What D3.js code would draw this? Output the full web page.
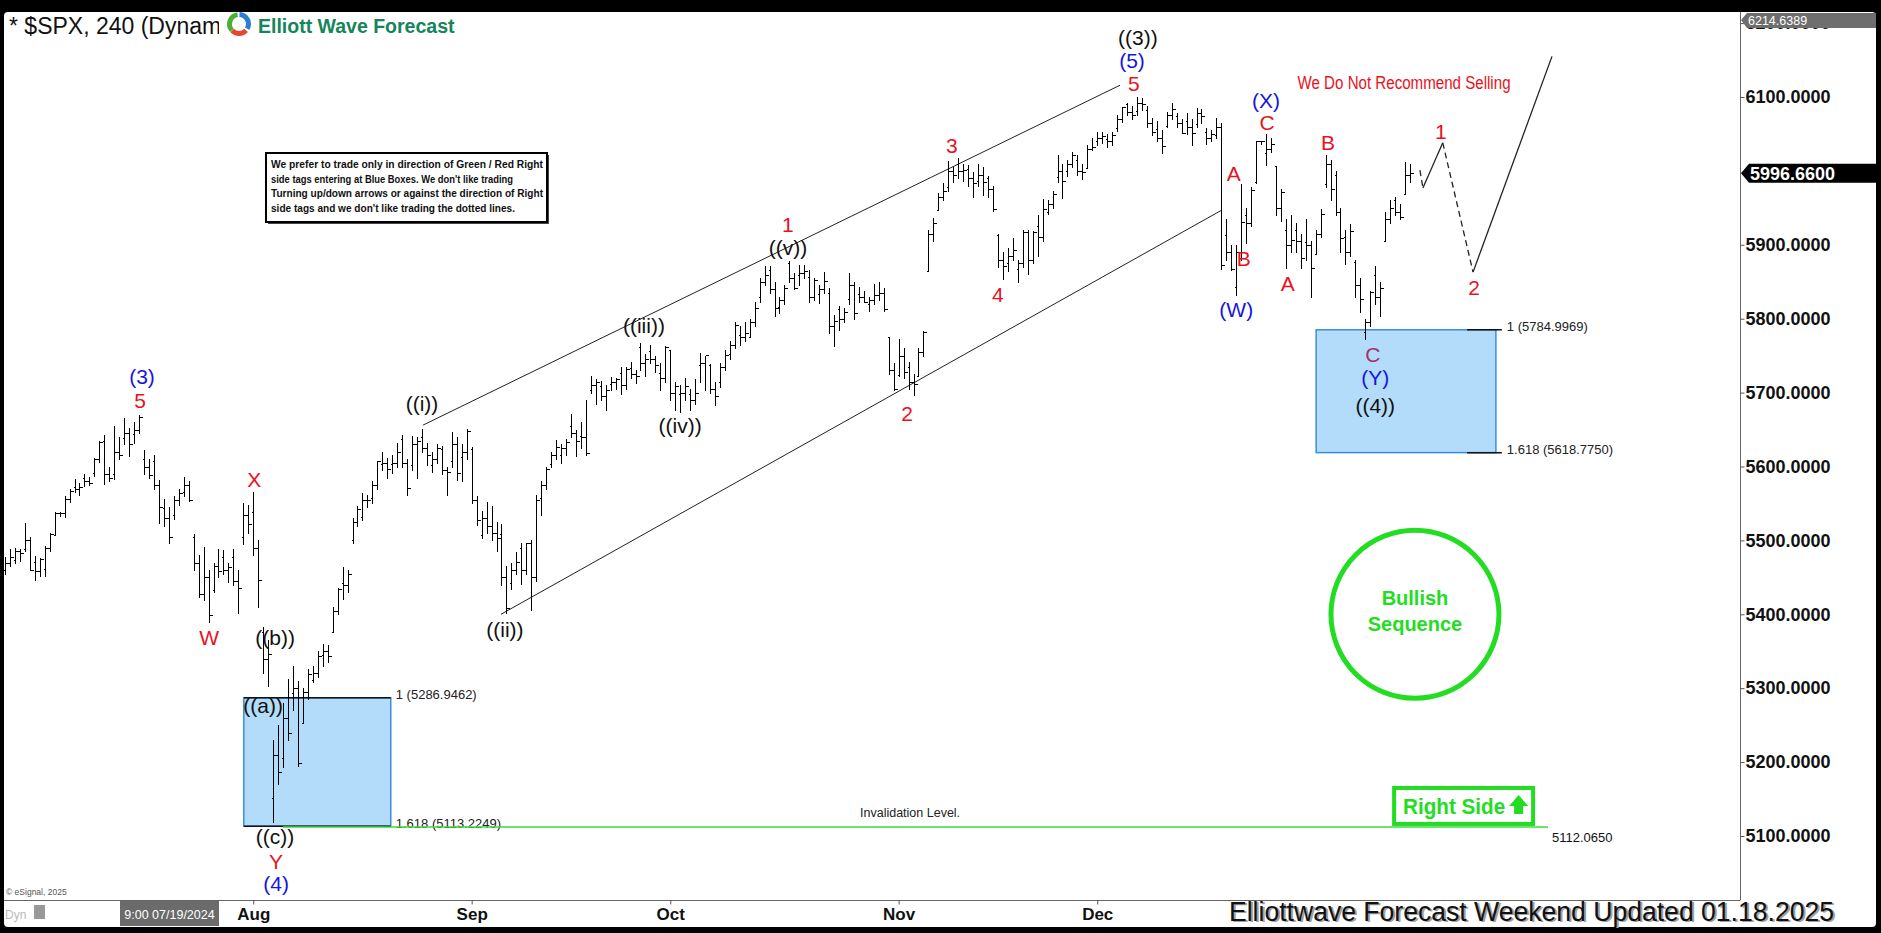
<!DOCTYPE html>
<html>
<head>
<script src="https://cdnjs.cloudflare.com/ajax/libs/d3/7.8.5/d3.min.js"></script>
<style>
    body {
        margin: 0;
        background: #000;
        overflow: hidden;
    }
    svg {
        display: block;
    }
</style>
</head>
<body>
<div id="chart"></div>
<script>
// 240 minute bars of $SPX, [open, high, low, close], two bars per session
var junBars = [
    [5460,5478,5454,5470],[5470,5488,5466,5478],
    [5473,5490,5469,5485],[5485,5489,5472,5483],
    [5488,5524,5486,5500],[5500,5505,5460,5460]
];
var julBars = [
    [5471,5479,5446,5458],[5458,5476,5452,5475],
    [5461,5492,5452,5490],[5490,5510,5486,5509],
    [5507,5539,5507,5537],[5537,5538,5533,5537],
    [5537,5560,5531,5556],[5556,5570,5552,5567],
    [5572,5583,5566,5570],[5570,5578,5562,5572],
    [5584,5590,5574,5580],[5580,5586,5575,5577],
    [5591,5612,5587,5610],[5610,5635,5606,5633],
    [5635,5642,5576,5590],[5590,5600,5580,5585],
    [5590,5655,5583,5620],[5620,5640,5610,5615],
    [5638,5666,5630,5645],[5645,5652,5614,5631],
    [5644,5660,5632,5650],[5650,5670,5645,5667],
    [5610,5622,5590,5600],[5600,5610,5584,5588],
    [5608,5615,5570,5575],[5575,5582,5523,5545],
    [5544,5556,5520,5530],[5530,5545,5497,5505],
    [5534,5560,5529,5555],[5555,5570,5548,5564],
    [5566,5586,5560,5575],[5575,5580,5553,5555],
    [5505,5508,5460,5470],[5470,5480,5424,5427],
    [5428,5491,5420,5450],[5450,5460,5390,5399],
    [5433,5470,5430,5465],[5465,5488,5450,5459],
    [5477,5487,5455,5460],[5460,5470,5444,5464],
    [5478,5489,5440,5445],[5445,5460,5402,5436],
    [5505,5551,5495,5535],[5535,5548,5510,5522]
];
var augBars = [
    [5538,5566,5480,5490],[5490,5500,5410,5446],
    [5376,5383,5320,5340],[5340,5365,5303,5346],
    [5151,5230,5119,5210],[5210,5250,5170,5186],
    [5206,5280,5194,5260],[5260,5312,5230,5240],
    [5293,5330,5270,5300],[5300,5310,5195,5199],
    [5253,5300,5253,5295],[5295,5326,5285,5319],
    [5311,5330,5309,5320],[5320,5351,5315,5344],
    [5345,5360,5330,5350],[5350,5358,5335,5344],
    [5376,5410,5376,5405],[5405,5436,5400,5434],
    [5443,5464,5421,5440],[5440,5460,5430,5455],
    [5501,5530,5497,5525],[5525,5546,5520,5543],
    [5531,5564,5528,5555],[5555,5562,5545,5554],
    [5557,5580,5550,5575],[5575,5608,5570,5608],
    [5603,5620,5595,5605],[5605,5612,5585,5597],
    [5603,5615,5591,5605],[5605,5632,5600,5620],
    [5637,5643,5600,5605],[5605,5610,5561,5571],
    [5602,5641,5595,5630],[5630,5640,5585,5634],
    [5640,5651,5620,5625],[5625,5632,5602,5616],
    [5602,5620,5593,5610],[5610,5631,5605,5625],
    [5624,5628,5590,5595],[5595,5600,5561,5592],
    [5608,5647,5600,5630],[5630,5640,5582,5591],
    [5613,5630,5581,5620],[5620,5651,5610,5648]
];
var sepBars = [
    [5624,5626,5550,5555],[5555,5560,5521,5528],
    [5507,5540,5503,5530],[5530,5552,5510,5520],
    [5520,5546,5500,5510],[5510,5525,5485,5503],
    [5508,5522,5440,5450],[5450,5465,5402,5408],
    [5442,5470,5434,5460],[5460,5484,5455,5471],
    [5490,5497,5441,5460],[5460,5497,5455,5496],
    [5496,5500,5406,5450],[5450,5561,5445,5554],
    [5557,5580,5535,5575],[5575,5600,5570,5596],
    [5603,5620,5600,5615],[5615,5636,5610,5626],
    [5616,5630,5605,5625],[5625,5637,5615,5633],
    [5655,5671,5640,5645],[5645,5650,5614,5634],
    [5641,5660,5625,5640],[5640,5690,5616,5618],
    [5703,5722,5700,5710],[5710,5718,5684,5714],
    [5709,5716,5690,5695],[5695,5710,5676,5703],
    [5711,5721,5703,5715],[5715,5720,5705,5718],
    [5727,5735,5698,5710],[5710,5734,5705,5732],
    [5733,5742,5720,5725],[5725,5730,5713,5722],
    [5762,5767,5730,5740],[5740,5752,5722,5745],
    [5756,5764,5740,5745],[5745,5750,5728,5738],
    [5727,5740,5704,5720],[5720,5763,5715,5762]
];
var octBars = [
    [5758,5758,5690,5700],[5700,5715,5677,5709],
    [5698,5710,5674,5700],[5700,5720,5690,5709],
    [5698,5705,5677,5690],[5690,5718,5685,5699],
    [5737,5753,5715,5740],[5740,5750,5703,5751],
    [5737,5739,5700,5705],[5705,5715,5683,5695],
    [5714,5740,5707,5735],[5735,5758,5730,5751],
    [5752,5770,5745,5765],[5765,5796,5760,5792],
    [5778,5790,5764,5775],[5775,5795,5770,5780],
    [5775,5800,5775,5795],[5795,5822,5790,5815],
    [5829,5855,5823,5850],[5850,5871,5845,5859],
    [5866,5871,5835,5840],[5840,5850,5804,5815],
    [5816,5830,5808,5825],[5825,5846,5820,5842],
    [5875,5878,5850,5855],[5855,5862,5840,5841],
    [5859,5873,5846,5862],[5862,5872,5855,5864],
    [5857,5866,5823,5830],[5830,5855,5825,5853],
    [5833,5845,5821,5840],[5840,5863,5835,5851],
    [5835,5842,5780,5790],[5790,5805,5763,5797],
    [5813,5817,5785,5800],[5800,5815,5795,5809],
    [5827,5862,5820,5845],[5845,5850,5800,5808],
    [5833,5843,5822,5830],[5830,5838,5822,5823],
    [5820,5830,5810,5825],[5825,5847,5820,5832],
    [5832,5850,5825,5835],[5835,5842,5810,5813],
    [5775,5775,5725,5730],[5730,5740,5703,5705]
];
var novBars = [
    [5724,5772,5723,5750],[5750,5760,5720,5728],
    [5734,5741,5705,5715],[5715,5725,5697,5712],
    [5722,5760,5722,5755],[5755,5783,5750,5782],
    [5864,5920,5864,5915],[5915,5936,5905,5929],
    [5947,5970,5947,5965],[5965,5983,5960,5973],
    [5978,6013,5973,6000],[6000,6005,5985,5995],
    [6009,6018,5990,6000],[6000,6010,5986,6001],
    [6003,6008,5980,5990],[5990,5998,5965,5983],
    [5986,6010,5980,5995],[5995,6005,5967,5985],
    [5990,5993,5965,5975],[5975,5980,5946,5949],
    [5913,5915,5870,5880],[5880,5890,5854,5871],
    [5875,5895,5865,5885],[5885,5909,5880,5893],
    [5867,5880,5850,5875],[5875,5920,5870,5917],
    [5917,5920,5860,5880],[5880,5918,5875,5917],
    [5925,5940,5885,5910],[5910,5962,5905,5949],
    [5944,5960,5942,5955],[5955,5973,5950,5969],
    [5992,6021,5985,6000],[6000,6010,5964,5987],
    [6000,6015,5993,6010],[6010,6025,6005,6021],
    [6015,6021,5995,6000],[6000,6010,5989,5998],
    [6004,6035,6004,6030],[6030,6044,6028,6032]
];
var decBars = [
    [6040,6053,6035,6045],[6045,6052,6038,6047],
    [6043,6050,6033,6040],[6040,6052,6035,6049],
    [6058,6075,6054,6070],[6070,6087,6066,6086],
    [6090,6092,6075,6080],[6080,6088,6070,6075],
    [6081,6100,6076,6092],[6092,6099,6082,6090],
    [6083,6088,6060,6065],[6065,6072,6048,6053],
    [6057,6068,6040,6045],[6045,6055,6024,6034],
    [6061,6080,6060,6075],[6075,6092,6070,6084],
    [6074,6079,6060,6065],[6065,6070,6051,6051],
    [6068,6078,6050,6060],[6060,6070,6035,6051],
    [6063,6085,6059,6078],[6078,6084,6065,6074],
    [6053,6058,6036,6045],[6045,6055,6040,6050],
    [6048,6071,6045,6060],[6060,6065,5867,5872],
    [5913,5935,5880,5890],[5890,5900,5866,5867],
    [5843,5900,5832,5890],[5890,5982,5880,5931],
    [5941,5950,5903,5930],[5930,5978,5925,5974],
    [5985,6041,5983,6040],[6040,6041,6036,6040],
    [6024,6050,6008,6030],[6030,6045,6025,6037],
    [6006,6007,5940,5950],[5950,5975,5932,5971],
    [5920,5935,5869,5900],[5900,5940,5890,5907],
    [5920,5929,5890,5905],[5905,5915,5869,5882]
];
var janBars = [
    [5904,5935,5880,5900],[5900,5905,5829,5869],
    [5888,5920,5888,5915],[5915,5949,5910,5942],
    [5982,6022,5978,6010],[6010,6015,5960,5975],
    [5994,6000,5940,5945],[5945,5950,5890,5909],
    [5911,5920,5874,5890],[5890,5928,5885,5918],
    [5877,5879,5830,5845],[5845,5855,5809,5827],
    [5782,5800,5773,5795],[5795,5838,5790,5836],
    [5859,5871,5820,5830],[5830,5850,5803,5842],
    [5905,5945,5905,5935],[5935,5960,5930,5950],
    [5960,5965,5940,5945],[5945,5955,5935,5937],
    [5969,6012,5970,5995],[5995,6010,5985,5997]
];

var monthNames = ["Aug", "Sep", "Oct", "Nov", "Dec"];
var priceTicks = d3.range(5100, 6201, 100);
var lastPrice = 5996.66;
var topPrice = 6214.6389;

// wave labels: text, bar index, price, colour key
var waveLabels = [
    ["(3)", 27.6, 5722, "b"], ["5", 27.2, 5690, "r"],
    ["X", 50.2, 5583, "r"], ["W", 41.1, 5369, "r"],
    ["((b))", 54.4, 5369, "k"], ["((a))", 52, 5276, "k"],
    ["((c))", 54.4, 5100, "k"], ["Y", 54.6, 5065, "r"], ["(4)", 54.6, 5036, "b"],
    ["((i))", 84, 5685, "k"], ["((ii))", 100.7, 5380, "k"],
    ["((iii))", 128.7, 5791, "k"], ["((iv))", 136, 5655, "k"],
    ["((v))", 157.7, 5897, "k"], ["1", 157.7, 5928, "r"],
    ["2", 181.7, 5672, "r"], ["3", 190.7, 6034, "r"], ["4", 200, 5833, "r"],
    ["((3))", 228.2, 6180, "k"], ["(5)", 227, 6150, "b"], ["5", 227.4, 6118, "r"],
    ["(X)", 254, 6096, "b"], ["C", 254.2, 6066, "r"],
    ["A", 247.5, 5996, "r"], ["B", 249.5, 5882, "r"], ["(W)", 248, 5812, "b"],
    ["A", 258.4, 5848, "r"], ["B", 266.5, 6038, "r"],
    ["C", 275.5, 5752, "p"], ["(Y)", 276, 5721, "b"], ["((4))", 276, 5682, "k"],
    ["1", 289.2, 6054, "r"], ["2", 295.9, 5842, "r"]
];

var channelUpper = [[84.2, 5656], [224.6, 6116]];
var channelLower = [[99.9, 5400], [245.1, 5947]];

var projIdx = [285, 285.6, 289.6, 295.7, 311.6];
var projPrice = [6001, 5977, 6038, 5863, 6155];
var projDashed = [true, false, true, false];

var blueBoxes = [
    {i0: 48.1, i1: 77.7, top: 5286.9462, bottom: 5113.2249},
    {i0: 264.1, i1: 300.3, top: 5784.9969, bottom: 5618.775}
];
var fibLines = [
    {i0: 48.1, i1: 77.7, p: 5286.9462, text: "1 (5286.9462)"},
    {i0: 48.1, i1: 77.7, p: 5113.2249, text: "1.618 (5113.2249)"},
    {i0: 294.5, i1: 301.5, p: 5784.9969, text: "1 (5784.9969)"},
    {i0: 294.5, i1: 301.5, p: 5618.775, text: "1.618 (5618.7750)"}
];
var invalidation = {i0: 56, i1: 310.8, p: 5112.065};

var noteLines = [
    "We prefer to trade only in direction of Green / Red Right",
    "side tags entering at Blue Boxes. We don't like trading",
    "Turning up/down arrows or against the direction of Right",
    "side tags and we don't like trading the dotted lines."
];

var bars = d3.merge([junBars, julBars, augBars, sepBars, octBars, novBars, decBars, janBars]);
var monthStarts = [];
var start = junBars.length + julBars.length;
[augBars, sepBars, octBars, novBars, decBars].forEach(function(m) {
    monthStarts.push(start);
    start += m.length;
});

var W = 1881, H = 933;
var FONT = "'Liberation Sans', Arial, Helvetica, sans-serif";
var GREEN = "#22dd22";
var colors = {b: "#1515e0", r: "#e8121c", k: "#111111", p: "#a3306a"};

var svg = d3.select("#chart").append("svg")
    .attr("width", W)
    .attr("height", H)
    .style("font-family", FONT);

// frame
svg.append("rect").attr("width", W).attr("height", H).attr("fill", "#000");
svg.append("rect").attr("x", 4).attr("y", 12).attr("width", 1872).attr("height", 915)
    .attr("rx", 4).attr("fill", "#fff");

var x = d3.scaleLinear().domain([0, 283]).range([5, 1410]);
var y = d3.scaleLinear().domain([5100, 6100]).range([836, 97]);

// plot separators
svg.append("line").attr("x1", 1740.5).attr("x2", 1740.5).attr("y1", 12).attr("y2", 900)
    .attr("stroke", "#666");
svg.append("line").attr("x1", 4).attr("x2", 1740.5).attr("y1", 900.5).attr("y2", 900.5)
    .attr("stroke", "#666");

// blue boxes
svg.append("g").selectAll("rect").data(blueBoxes).join("rect")
    .attr("x", function(d) { return x(d.i0); })
    .attr("y", function(d) { return y(d.top); })
    .attr("width", function(d) { return x(d.i1) - x(d.i0); })
    .attr("height", function(d) { return y(d.bottom) - y(d.top); })
    .attr("fill", "#b3dbfa")
    .attr("stroke", "#3a8ed6")
    .attr("stroke-width", 1.5);

var fib = svg.append("g");
fib.selectAll("line").data(fibLines).join("line")
    .attr("x1", function(d) { return x(d.i0); })
    .attr("x2", function(d) { return x(d.i1); })
    .attr("y1", function(d) { return y(d.p); })
    .attr("y2", function(d) { return y(d.p); })
    .attr("stroke", "#111")
    .attr("stroke-width", 1.5);
fib.selectAll("text").data(fibLines).join("text")
    .attr("x", function(d) { return x(d.i1) + 5; })
    .attr("y", function(d) { return y(d.p); })
    .attr("dy", "0.1em")
    .attr("font-size", 13)
    .attr("fill", "#222")
    .text(function(d) { return d.text; });

// invalidation level
svg.append("line")
    .attr("x1", x(invalidation.i0)).attr("x2", x(invalidation.i1))
    .attr("y1", y(invalidation.p)).attr("y2", y(invalidation.p))
    .attr("stroke", "#3ddc3d").attr("stroke-width", 1.5);
svg.append("text")
    .attr("x", x(182.3)).attr("y", y(invalidation.p) - 10)
    .attr("text-anchor", "middle").attr("font-size", 12.5).attr("fill", "#222")
    .text("Invalidation Level.");
svg.append("text")
    .attr("x", x(invalidation.i1) + 4).attr("y", y(invalidation.p) + 15)
    .attr("font-size", 13).attr("fill", "#111")
    .text(d3.format(".4f")(invalidation.p));

// channel lines
var lineGen = d3.line().x(function(d) { return x(d[0]); }).y(function(d) { return y(d[1]); });
svg.append("path").attr("d", lineGen(channelUpper)).attr("stroke", "#222").attr("fill", "none");
svg.append("path").attr("d", lineGen(channelLower)).attr("stroke", "#222").attr("fill", "none");

// OHLC bars
var barG = svg.append("g")
    .attr("stroke", "#000")
    .attr("stroke-width", 1)
    .attr("shape-rendering", "crispEdges");
var bar = barG.selectAll("g").data(bars).join("g")
    .attr("transform", function(d, i) { return "translate(" + (Math.round(x(i)) + 0.5) + ",0)"; });
bar.append("line")
    .attr("y1", function(d) { return Math.round(y(d[1])); })
    .attr("y2", function(d) { return Math.round(y(d[2])) + 1; });
bar.append("line")
    .attr("x1", -2).attr("x2", 0)
    .attr("y1", function(d) { return Math.round(y(d[0])) + 0.5; })
    .attr("y2", function(d) { return Math.round(y(d[0])) + 0.5; });
bar.append("line")
    .attr("x1", 0).attr("x2", 3)
    .attr("y1", function(d) { return Math.round(y(d[3])) + 0.5; })
    .attr("y2", function(d) { return Math.round(y(d[3])) + 0.5; });

// projected path
for (var k = 0; k < projIdx.length - 1; k++) {
    svg.append("line")
        .attr("x1", x(projIdx[k])).attr("y1", y(projPrice[k]))
        .attr("x2", x(projIdx[k + 1])).attr("y2", y(projPrice[k + 1]))
        .attr("stroke", "#222")
        .attr("stroke-width", 1.3)
        .attr("stroke-dasharray", projDashed[k] ? "6,4" : null);
}

// wave labels
svg.append("g").selectAll("text").data(waveLabels).join("text")
    .attr("x", function(d) { return x(d[1]); })
    .attr("y", function(d) { return y(d[2]); })
    .attr("dy", "0.36em")
    .attr("text-anchor", "middle")
    .attr("font-size", 21)
    .attr("fill", function(d) { return colors[d[3]]; })
    .text(function(d) { return d[0]; });

svg.append("text")
    .attr("x", x(281.8)).attr("y", y(6119)).attr("dy", "0.35em")
    .attr("text-anchor", "middle").attr("font-size", 18).attr("fill", "#e8121c")
    .attr("textLength", 213).attr("lengthAdjust", "spacingAndGlyphs")
    .text("We Do Not Recommend Selling");

// bullish sequence badge
var cx = x(284), cy = y(5400);
svg.append("circle").attr("cx", cx).attr("cy", cy).attr("r", 84)
    .attr("fill", "none").attr("stroke", GREEN).attr("stroke-width", 5);
svg.append("text").attr("x", cx).attr("y", cy - 9)
    .attr("text-anchor", "middle").attr("font-size", 20).attr("font-weight", "bold")
    .attr("fill", GREEN).text("Bullish");
svg.append("text").attr("x", cx).attr("y", cy + 17)
    .attr("text-anchor", "middle").attr("font-size", 20).attr("font-weight", "bold")
    .attr("fill", GREEN).text("Sequence");

// right side tag
var rsX = x(279.8), rsY = y(5165);
svg.append("rect").attr("x", rsX).attr("y", rsY).attr("width", 139).attr("height", 36)
    .attr("fill", "#fff").attr("stroke", GREEN).attr("stroke-width", 4);
svg.append("text").attr("x", rsX + 9).attr("y", rsY + 26)
    .attr("font-size", 22).attr("font-weight", "bold").attr("fill", GREEN)
    .attr("textLength", 102).attr("lengthAdjust", "spacingAndGlyphs")
    .text("Right Side");
svg.append("path")
    .attr("d", "M" + (rsX + 115) + "," + (rsY + 18) + " l9.5,-11 l9.5,11 h-5 v8 h-9 v-8 z")
    .attr("fill", GREEN);

// note box
var note = svg.append("g").attr("transform", "translate(266,153)");
note.append("rect").attr("x", 2).attr("y", 2).attr("width", 281).attr("height", 69).attr("fill", "#444");
note.append("rect").attr("width", 281).attr("height", 69).attr("fill", "#fff")
    .attr("stroke", "#000").attr("stroke-width", 2);
note.selectAll("text").data(noteLines).join("text")
    .attr("x", 5)
    .attr("y", function(d, i) { return 15 + i * 14.5; })
    .attr("font-size", 11.5)
    .attr("font-weight", "bold")
    .attr("fill", "#111")
    .attr("textLength", function(d, i) { return [272, 242, 272, 244][i]; })
    .attr("lengthAdjust", "spacingAndGlyphs")
    .text(function(d) { return d; });

// price axis (the tick under the last price tag is hidden by it)
var ly = y(lastPrice);
var yAxis = d3.axisRight(y)
    .tickValues(priceTicks.filter(function(p) { return Math.abs(y(p) - ly) > 12; }))
    .tickFormat(d3.format(".4f"))
    .tickSize(4)
    .tickPadding(1);
var yAx = svg.append("g").attr("transform", "translate(1740.5,0)").call(yAxis);
yAx.select(".domain").remove();
yAx.selectAll("line").attr("stroke", "#555");
yAx.selectAll("text")
    .attr("font-family", FONT)
    .attr("font-size", 18)
    .attr("font-weight", "bold")
    .attr("fill", "#111");

// top value tag
var tg = svg.append("g");
tg.append("path")
    .attr("d", "M1741,20 L1747,13 H1876 V28 H1747 Z")
    .attr("fill", "#6e6e6e");
tg.append("text").attr("x", 1748).attr("y", 25)
    .attr("font-size", 12.5).attr("fill", "#fff")
    .text(d3.format(".4f")(topPrice));

// last price tag
svg.append("path")
    .attr("d", "M1741," + ly + " L1749," + (ly - 9.5) + " H1876 V" + (ly + 9.5) + " H1749 Z")
    .attr("fill", "#000");
svg.append("text").attr("x", 1750).attr("y", ly + 6.5)
    .attr("font-size", 18).attr("font-weight", "bold").attr("fill", "#fff")
    .text(d3.format(".4f")(lastPrice));

// time axis
var xAxis = d3.axisBottom(x)
    .tickValues(monthStarts)
    .tickFormat(function(d, i) { return monthNames[i]; })
    .tickSize(4)
    .tickPadding(3);
var xAx = svg.append("g").attr("transform", "translate(0,900.5)").call(xAxis);
xAx.select(".domain").remove();
xAx.selectAll("line").attr("stroke", "#555");
xAx.selectAll("text")
    .attr("font-family", FONT)
    .attr("font-size", 17)
    .attr("font-weight", "bold")
    .attr("fill", "#111");

svg.append("rect").attr("x", 120).attr("y", 901).attr("width", 99).attr("height", 25).attr("fill", "#6b6b6b");
svg.append("text").attr("x", 169.5).attr("y", 918.5).attr("text-anchor", "middle")
    .attr("font-size", 12.5).attr("fill", "#fff").text("9:00 07/19/2024");
svg.append("text").attr("x", 5).attr("y", 919).attr("font-size", 12).attr("fill", "#bbb").text("Dyn");
svg.append("rect").attr("x", 34).attr("y", 905).attr("width", 11).attr("height", 14).attr("fill", "#999");
svg.append("text").attr("x", 6).attr("y", 895).attr("font-size", 8.5).attr("fill", "#555").text("\u00a9 eSignal, 2025");

// footer
var footer = "Elliottwave Forecast Weekend Updated 01.18.2025";
svg.append("text").attr("x", 1231).attr("y", 922)
    .attr("font-size", 27).attr("fill", "#a0a0a0")
    .attr("textLength", 605).attr("lengthAdjust", "spacingAndGlyphs")
    .text(footer);
svg.append("text").attr("x", 1229).attr("y", 920.5)
    .attr("font-size", 27).attr("fill", "#111")
    .attr("textLength", 605).attr("lengthAdjust", "spacingAndGlyphs")
    .text(footer);

// header
svg.append("text").attr("x", 9).attr("y", 34)
    .attr("font-size", 23).attr("fill", "#111")
    .text("* $SPX, 240 (Dynamic)");
svg.append("rect").attr("x", 219).attr("y", 12).attr("width", 260).attr("height", 30).attr("fill", "#fff");
var logo = svg.append("g").attr("transform", "translate(239,24)");
var arc = d3.arc().innerRadius(7).outerRadius(12);
logo.append("path").attr("d", arc({startAngle: -2.3, endAngle: -0.15})).attr("fill", "#4caf32");
logo.append("path").attr("d", arc({startAngle: 0.05, endAngle: 2.1})).attr("fill", "#2a7fd0");
logo.append("path").attr("d", arc({startAngle: 2.3, endAngle: 3.95})).attr("fill", "#e5482a");
svg.append("text").attr("x", 258).attr("y", 33)
    .attr("font-size", 19.5).attr("font-weight", "bold").attr("fill", "#15855a")
    .text("Elliott Wave Forecast");
</script>
</body>
</html>
